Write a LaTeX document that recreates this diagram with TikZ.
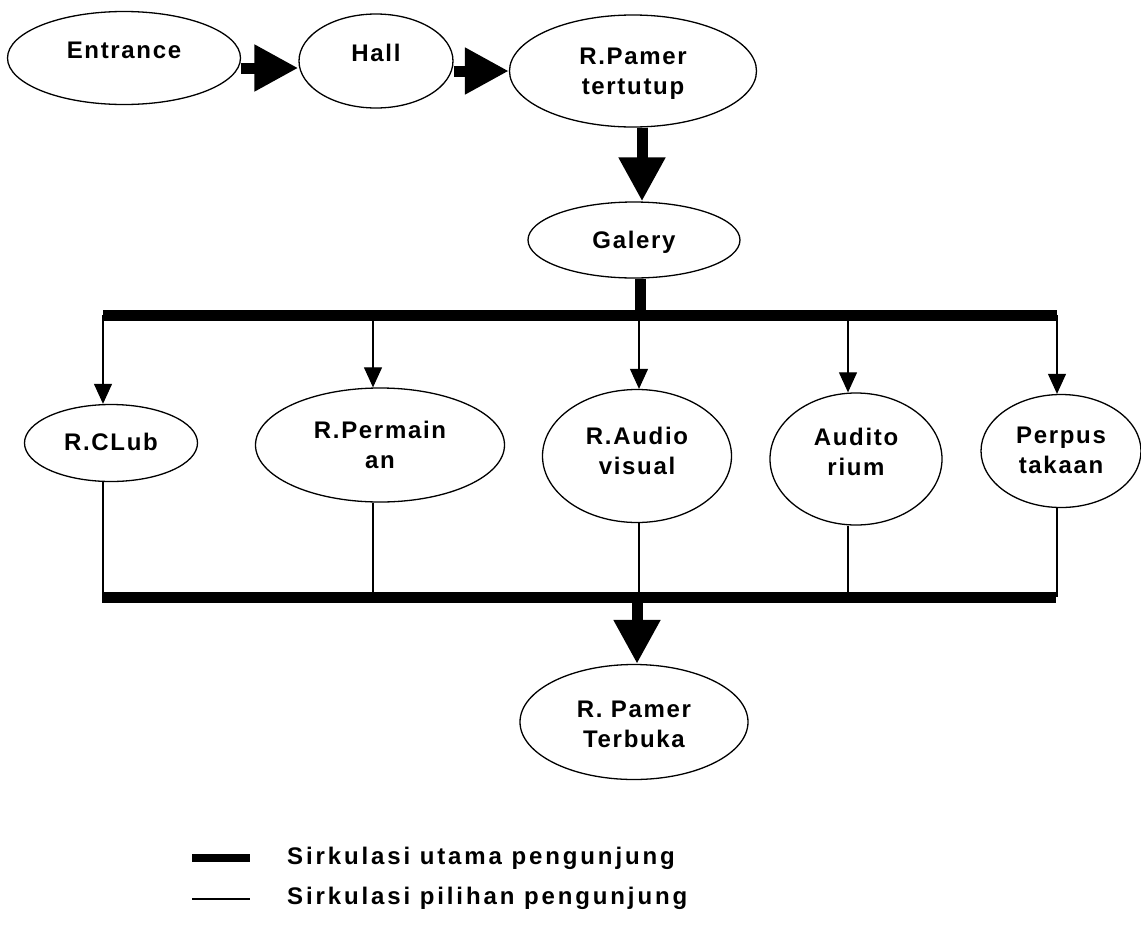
\documentclass[tikz,border=0pt]{standalone}
\usepackage{fontspec}
\setmainfont{Liberation Sans}[LetterSpace=7]
\newfontfamily\legendfont{Liberation Sans}[LetterSpace=12]
\usetikzlibrary{arrows.meta,shapes.geometric}
% room labels: a zero-size box, so the baseline is placed by the shift alone
\newcommand\roomtext[2][0pt]{\raisebox{#1}[0pt][0pt]{#2}}
\newcommand\roomlines[3][0pt]{\raisebox{#1}[0pt][0pt]{\begin{tabular}{@{}c@{}}#2\\#3\end{tabular}}}
\begin{document}
\begin{tikzpicture}[x=1pt,y=-1pt,
  room/.style={ellipse,draw,line width=1.3pt,inner sep=0pt,align=center,
    font=\fontsize{24}{30}\selectfont\bfseries},
  mainline/.style={line width=11pt},
  bigarrow/.style={line width=11pt,-{Triangle[width=44pt,length=44pt]}},
  optline/.style={line width=1.1pt},
  optarrow/.style={line width=1.1pt,-{Triangle[width=18pt,length=20pt]}},
  legendtext/.style={anchor=west,inner sep=0pt,font=\legendfont\fontsize{24}{28}\selectfont\bfseries}]
\useasboundingbox (0,0) rectangle (1141,935);

% rooms along the main route
\node[room,minimum width=233pt,minimum height=93pt] (ent) at (124,58) {\roomtext{Entrance}};
\node[room,minimum width=154pt,minimum height=94pt] (hall) at (376,61) {\roomtext{Hall}};
\node[room,minimum width=247pt,minimum height=112pt] (pamer) at (633,71) {\roomlines[-8.5pt]{R.Pamer}{tertutup}};
\node[room,minimum width=212pt,minimum height=76pt] (gal) at (634,240) {\roomtext[-8pt]{Galery}};

% rooms reached from the gallery
\node[room,minimum width=173pt,minimum height=77pt] (club) at (111,443) {\roomtext[-7.5pt]{R.CLub}};
\node[room,minimum width=249pt,minimum height=114pt] (main) at (380,445) {\roomlines[-9pt]{R.Permain}{an}};
\node[room,minimum width=189pt,minimum height=133pt] (audio) at (637,456) {\roomlines[-4pt]{R.Audio}{visual}};
\node[room,minimum width=172pt,minimum height=132pt] (audit) at (856,459) {\roomlines[-2pt]{Audito}{rium}};
\node[room,minimum width=160pt,minimum height=113pt] (perpus) at (1061,451) {\roomlines[-8pt]{Perpus}{takaan}};

% final room
\node[room,minimum width=228pt,minimum height=115pt] (terbuka) at (634,722) {\roomlines[-11pt]{R. Pamer}{Terbuka}};

% main circulation
\draw[bigarrow] ([yshift=-10pt]ent.east) -- ([yshift=-7pt]hall.west);
\draw[bigarrow] ([yshift=-10pt]hall.east) -- (pamer.west);
\draw[bigarrow] ([xshift=9pt]pamer.south) -- ([xshift=8pt]gal.north);

\coordinate (busL) at (103,315);
\coordinate (busR) at (1057,315);
\coordinate (gstub) at (640,315);
\draw[mainline] (gstub |- gal.south) -- (gstub);
\draw[mainline] (busL) -- (busR);

% optional branches
\coordinate (dC) at (103,315);
\coordinate (dP) at (373,315);
\coordinate (dA) at (639,315);
\coordinate (dU) at (848,315);
\coordinate (dT) at (1057,315);
\draw[optarrow] (dC) -- (dC |- club.north);
\draw[optarrow] (dP) -- (dP |- main.north);
\draw[optarrow] (dA) -- (dA |- audio.north);
\draw[optarrow] (dU) -- (dU |- audit.north);
\draw[optarrow] (dT) -- (dT |- perpus.north);

\coordinate (lowL) at (102,597);
\coordinate (lowR) at (1056,597);
\draw[optline] (dC |- club.south) -- (dC |- lowL);
\draw[optline] (dP |- main.south) -- (dP |- lowL);
\draw[optline] (dA |- audio.south) -- (dA |- lowL);
\draw[optline] (dU |- audit.south) -- (dU |- lowL);
\draw[optline] (dT |- perpus.south) -- (dT |- lowL);
\draw[mainline] (lowL) -- (lowR);

\coordinate (tstub) at (637,597);
\draw[bigarrow] (tstub) -- (tstub |- terbuka.north);

% legend
\coordinate (lgA1) at (192,858);
\coordinate (lgA2) at (250,858);
\coordinate (lgB1) at (192,899);
\coordinate (lgB2) at (250,899);
\draw[line width=8pt] (lgA1) -- (lgA2);
\draw[optline] (lgB1) -- (lgB2);
\node[legendtext] (lg1) at (287,858) {Sirkulasi utama pengunjung};
\node[legendtext] (lg2) at (287,898) {Sirkulasi pilihan pengunjung};
\end{tikzpicture}
\end{document}
